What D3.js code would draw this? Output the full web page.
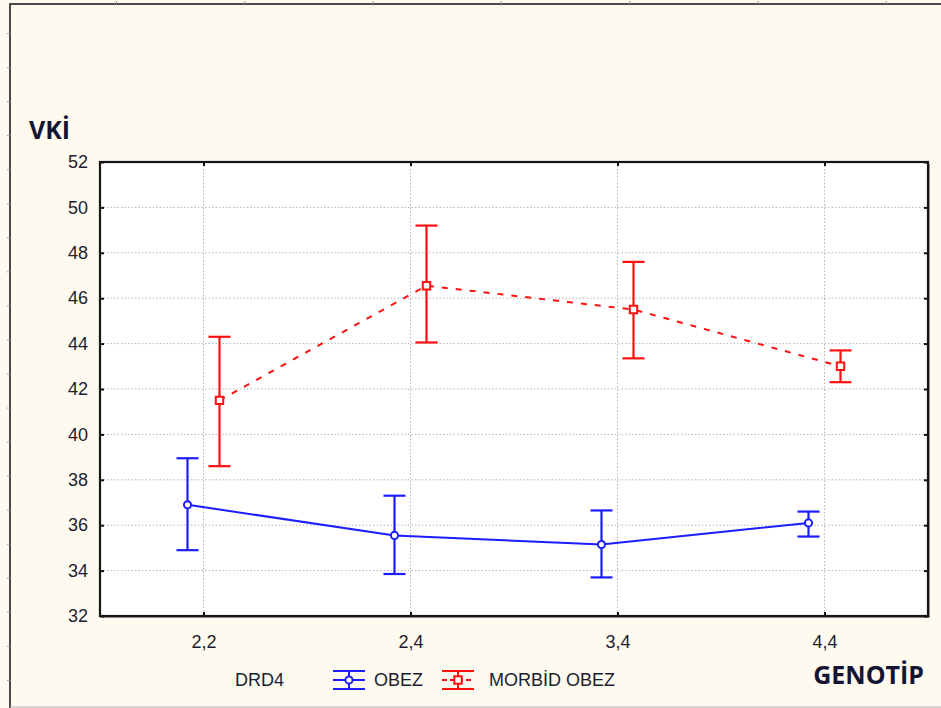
<!DOCTYPE html>
<html>
<head>
<meta charset="utf-8">
<script src="https://cdn.jsdelivr.net/npm/d3@7"></script>
<style>
  body { margin: 0; background: #fefaf0; }
  svg { display: block; }
</style>
</head>
<body>
<div id="chart"></div>
<script>
// data
var genotypes = ["2,2", "2,4", "3,4", "4,4"];
var seriesNames = ["OBEZ", "MORBİD OBEZ"];
var obezMean = [36.9, 35.55, 35.15, 36.1];
var obezLow  = [34.9, 33.85, 33.7, 35.5];
var obezHigh = [38.95, 37.3, 36.65, 36.6];
var morbidMean = [41.5, 46.55, 45.5, 43.0];
var morbidLow  = [38.6, 44.05, 43.35, 42.3];
var morbidHigh = [44.3, 49.2, 47.6, 43.7];
var yTicks = [32, 34, 36, 38, 40, 42, 44, 46, 48, 50, 52];

var W = 941, H = 708;
var margin = {top: 162, right: 13, bottom: 92, left: 100},
    width = W - margin.left - margin.right,
    height = H - margin.top - margin.bottom;

var svg = d3.select("#chart")
  .append("svg")
    .attr("width", W)
    .attr("height", H);

// outer frame of the graph window
svg.append("rect")
  .attr("x", 0).attr("y", 0).attr("width", W).attr("height", H)
  .attr("fill", "#fefaf0");
svg.append("line").attr("x1", 10).attr("x2", W).attr("y1", 4).attr("y2", 4)
  .attr("stroke", "#4a4a4a").attr("stroke-width", 2);
svg.append("line").attr("x1", 10).attr("x2", 10).attr("y1", 3).attr("y2", H)
  .attr("stroke", "#4a4a4a").attr("stroke-width", 2);
svg.append("line").attr("x1", 10).attr("x2", W).attr("y1", H - 1).attr("y2", H - 1)
  .attr("stroke", "#b0b0b0").attr("stroke-width", 1);

// little ruler ticks on the window border
var ruleY = d3.scaleLinear().domain([0, 20]).range([33, 714]);
svg.append("g").attr("transform", "translate(10,0)")
  .call(d3.axisLeft(ruleY).tickValues(d3.range(0, 20)).tickSize(3).tickFormat(""))
  .call(function(g) { g.select(".domain").remove(); })
  .selectAll("line").attr("stroke", "#999");
var ruleX = d3.scaleLinear().domain([0, 7]).range([116, 1014]);
svg.append("g").attr("transform", "translate(0,4)")
  .call(d3.axisTop(ruleX).tickValues(d3.range(0, 7)).tickSize(3).tickFormat(""))
  .call(function(g) { g.select(".domain").remove(); })
  .selectAll("line").attr("stroke", "#999");

var g = svg.append("g")
  .attr("transform", "translate(" + margin.left + "," + margin.top + ")");

var x = d3.scalePoint()
  .domain(genotypes)
  .range([0, width])
  .padding(0.5);

var y = d3.scaleLinear()
  .domain([32, 52])
  .range([height, 0]);

// plot area
g.append("rect")
  .attr("x", 2).attr("y", 2).attr("width", width).attr("height", height)
  .attr("fill", "#9a9a9a");
g.append("rect")
  .attr("width", width).attr("height", height)
  .attr("fill", "#ffffff");

// dotted grid
g.append("g")
  .selectAll("line.hg")
  .data(yTicks.slice(1, -1))
  .enter().append("line")
    .attr("x1", 0).attr("x2", width)
    .attr("y1", function(d) { return y(d); })
    .attr("y2", function(d) { return y(d); })
    .attr("stroke", "#b4b4b4")
    .attr("stroke-dasharray", "1.5,2");
g.append("g")
  .selectAll("line.vg")
  .data(genotypes)
  .enter().append("line")
    .attr("x1", function(d) { return x(d); })
    .attr("x2", function(d) { return x(d); })
    .attr("y1", 0).attr("y2", height)
    .attr("stroke", "#b4b4b4")
    .attr("stroke-dasharray", "1.5,2");

var tickFont = "'Liberation Sans', Arial, sans-serif";

// Y axis
var yAxis = g.append("g")
  .call(d3.axisLeft(y).tickValues(yTicks).tickSizeInner(-4).tickSizeOuter(0).tickPadding(12));
yAxis.select(".domain").remove();
yAxis.selectAll("line").attr("stroke", "#111").attr("stroke-width", 2);
yAxis.selectAll("text")
  .style("font-family", tickFont).style("font-size", "18px").attr("fill", "#1d1d30");

// right side ticks
var yRight = g.append("g")
  .attr("transform", "translate(" + width + ",0)")
  .call(d3.axisRight(y).tickValues(yTicks).tickSizeInner(-4).tickSizeOuter(0).tickFormat(""));
yRight.select(".domain").remove();
yRight.selectAll("line").attr("stroke", "#111").attr("stroke-width", 2);

// X axis
var xAxis = g.append("g")
  .attr("transform", "translate(0," + height + ")")
  .call(d3.axisBottom(x).tickSizeInner(-4).tickSizeOuter(0).tickPadding(19));
xAxis.select(".domain").remove();
xAxis.selectAll("line").attr("stroke", "#111").attr("stroke-width", 2);
xAxis.selectAll("text")
  .style("font-family", tickFont).style("font-size", "18px").attr("fill", "#1d1d30");

var xTop = g.append("g")
  .call(d3.axisTop(x).tickSizeInner(-4).tickSizeOuter(0).tickFormat(""));
xTop.select(".domain").remove();
xTop.selectAll("line").attr("stroke", "#111").attr("stroke-width", 2);

// plot frame
g.append("rect")
  .attr("width", width).attr("height", height)
  .attr("fill", "none").attr("stroke", "#151515").attr("stroke-width", 2.2);

// series
var series = [
  {name: seriesNames[0], mean: obezMean, low: obezLow, high: obezHigh,
   color: "#1c1cff", dash: null, offset: -16, marker: "circle"},
  {name: seriesNames[1], mean: morbidMean, low: morbidLow, high: morbidHigh,
   color: "#ff1010", dash: "6,8", offset: 16, marker: "square"}
];

var capW = 22;

series.forEach(function(s) {
  var pts = genotypes.map(function(k, i) {
    return {k: k, m: s.mean[i], lo: s.low[i], hi: s.high[i]};
  });
  var px = function(d) { return x(d.k) + s.offset; };
  var sg = g.append("g");

  sg.append("path")
    .datum(pts)
    .attr("fill", "none")
    .attr("stroke", s.color)
    .attr("stroke-width", 2)
    .attr("stroke-dasharray", s.dash)
    .attr("d", d3.line().x(px).y(function(d) { return y(d.m); }));

  var eb = sg.selectAll("g.eb").data(pts).enter().append("g")
    .attr("stroke", s.color).attr("stroke-width", 2.2);
  eb.append("line")
    .attr("x1", px).attr("x2", px)
    .attr("y1", function(d) { return y(d.lo); })
    .attr("y2", function(d) { return y(d.hi); });
  eb.append("line")
    .attr("x1", function(d) { return px(d) - capW / 2; })
    .attr("x2", function(d) { return px(d) + capW / 2; })
    .attr("y1", function(d) { return y(d.hi); })
    .attr("y2", function(d) { return y(d.hi); });
  eb.append("line")
    .attr("x1", function(d) { return px(d) - capW / 2; })
    .attr("x2", function(d) { return px(d) + capW / 2; })
    .attr("y1", function(d) { return y(d.lo); })
    .attr("y2", function(d) { return y(d.lo); });

  var sym = s.marker == "circle" ? d3.symbolCircle : d3.symbolSquare;
  var symSize = s.marker == "circle" ? 40 : 55;
  sg.selectAll("path.mk").data(pts).enter().append("path")
    .attr("transform", function(d) { return "translate(" + px(d) + "," + y(d.m) + ")"; })
    .attr("d", d3.symbol().type(sym).size(symSize))
    .attr("fill", "#ffffff")
    .attr("stroke", s.color)
    .attr("stroke-width", 2);
});

// axis titles
var titleFont = "'Open Sans', 'DejaVu Sans', sans-serif";
svg.append("text")
  .attr("x", 29).attr("y", 139)
  .style("font-family", titleFont).style("font-weight", "bold").style("font-size", "25px")
  .attr("fill", "#141432")
  .text("VKİ");
svg.append("text")
  .attr("x", 924).attr("y", 684)
  .attr("text-anchor", "end")
  .style("font-family", titleFont).style("font-weight", "bold").style("font-size", "25px")
  .attr("fill", "#141432")
  .text("GENOTİP");

// legend
var leg = svg.append("g").attr("transform", "translate(0,680)");
leg.append("text")
  .attr("x", 235).attr("y", 6)
  .style("font-family", tickFont).style("font-size", "18px").attr("fill", "#1d1d30")
  .text("DRD4");

var legX = [333, 442];
var legTextX = [374, 489];
series.forEach(function(s, i) {
  var lg = leg.append("g").attr("transform", "translate(" + legX[i] + ",0)")
    .attr("stroke", s.color).attr("stroke-width", 2);
  lg.append("line").attr("x1", 0).attr("x2", 32).attr("y1", -9).attr("y2", -9);
  lg.append("line").attr("x1", 0).attr("x2", 32).attr("y1", 9).attr("y2", 9);
  lg.append("line").attr("x1", 16).attr("x2", 16).attr("y1", -9).attr("y2", 9);
  lg.append("line").attr("x1", 0).attr("x2", 32).attr("y1", 0).attr("y2", 0)
    .attr("stroke-dasharray", s.dash ? "5,3" : null);
  lg.append("path")
    .attr("transform", "translate(16,0)")
    .attr("d", d3.symbol().type(s.marker == "circle" ? d3.symbolCircle : d3.symbolSquare)
      .size(s.marker == "circle" ? 40 : 55))
    .attr("fill", "#ffffff");
  leg.append("text")
    .attr("x", legTextX[i]).attr("y", 6)
    .style("font-family", tickFont).style("font-size", "18px").attr("fill", "#1d1d30")
    .text(s.name);
});
</script>
</body>
</html>
